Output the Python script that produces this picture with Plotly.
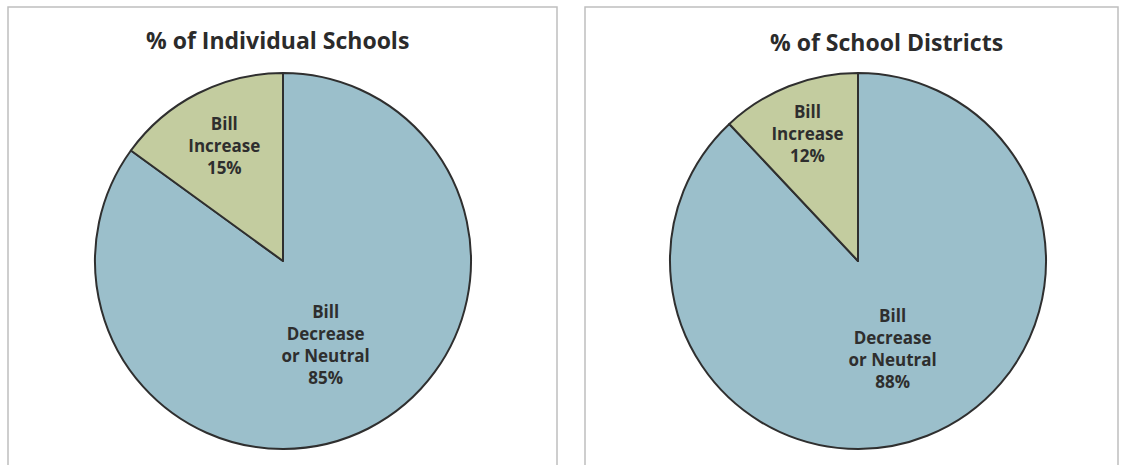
import plotly.graph_objects as go

categories = ["Bill Decrease or Neutral", "Bill Increase"]
text_labels = ["Bill<br>Decrease<br>or Neutral", "Bill<br>Increase"]
schools_values = [85, 15]
districts_values = [88, 12]
titles = ["% of Individual Schools", "% of School Districts"]

colors = ["#9BBFCB", "#C3CC9F"]
W, H = 1125, 465

def px_x(v):
    return v / W

def px_y(v):
    return 1 - v / H

fig = go.Figure()
common = dict(
    labels=categories,
    text=text_labels,
    sort=False,
    direction="clockwise",
    rotation=0,
    textinfo="text",
    texttemplate="%{text}<br>%{value}%",
    textposition="inside",
    insidetextorientation="horizontal",
    marker=dict(colors=colors, line=dict(color="#2f2f2f", width=2)),
    insidetextfont=dict(family="Open Sans", size=17, color="#2e2e2e", weight="bold"),
    showlegend=False,
    hoverinfo="label+value",
)
fig.add_trace(go.Pie(values=schools_values,
                     domain=dict(x=[px_x(95), px_x(471)], y=[px_y(449), px_y(73)]),
                     **common))
fig.add_trace(go.Pie(values=districts_values,
                     domain=dict(x=[px_x(670), px_x(1046)], y=[px_y(449), px_y(73)]),
                     **common))

# panel borders
for x0, x1 in [(8, 557), (585, 1118)]:
    fig.add_shape(type="rect", xref="paper", yref="paper",
                  x0=px_x(x0), x1=px_x(x1), y0=px_y(470), y1=px_y(7),
                  line=dict(color="#BFBFBF", width=1.5), fillcolor="rgba(0,0,0,0)")

for t, cx, cy in [(titles[0], 277, 40), (titles[1], 887, 42)]:
    fig.add_annotation(text=t, x=px_x(cx), y=px_y(cy), xref="paper", yref="paper",
                       showarrow=False, xanchor="center", yanchor="middle",
                       font=dict(family="Open Sans", size=23, color="#2b2b2b", weight="bold"))

fig.update_layout(width=W, height=H, margin=dict(l=0, r=0, t=0, b=0),
                  paper_bgcolor="white", plot_bgcolor="white")
fig.write_html("out.html", config={"displayModeBar": False},
               post_script="document.body.style.margin='0px';document.body.style.overflow='hidden';")
